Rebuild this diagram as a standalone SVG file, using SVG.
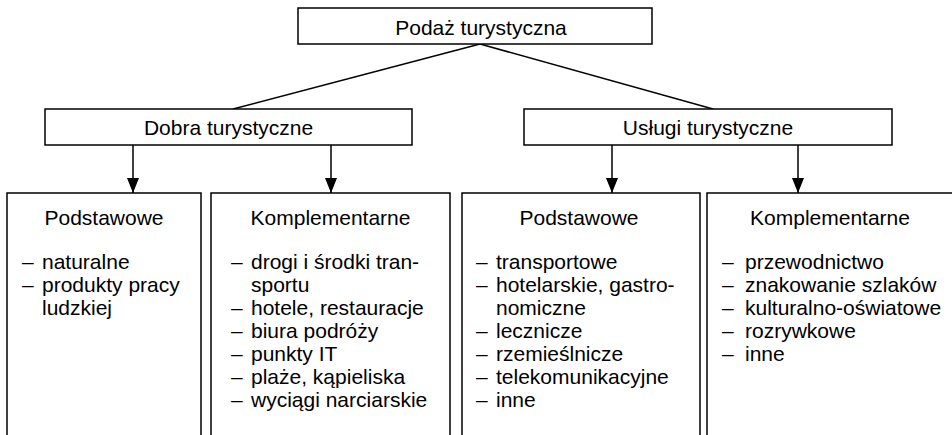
<svg xmlns="http://www.w3.org/2000/svg" width="952" height="435" viewBox="0 0 952 435">
<defs>
<marker id="arr" viewBox="0 0 15 12" refX="15" refY="6" markerWidth="15" markerHeight="12" markerUnits="userSpaceOnUse" orient="auto">
<path d="M0,0 L15,6 L0,12 Z" fill="#000"/>
</marker>
<style>
rect{fill:#fff;stroke:#000;stroke-width:1.5}
text{font-family:"Liberation Sans",Arial,sans-serif;font-size:21px;fill:#000}
.c{text-anchor:middle}
.ln{stroke:#000;stroke-width:1.5;fill:none}
</style>
</defs>
<rect x="0" y="0" width="952" height="435" style="stroke:none"/>
<g id="connectors">
<line class="ln" x1="480" y1="44" x2="233" y2="109"/>
<line class="ln" x1="480" y1="44" x2="713" y2="109"/>
<line class="ln" x1="133" y1="145" x2="133" y2="193" marker-end="url(#arr)"/>
<line class="ln" x1="331" y1="145" x2="331" y2="193" marker-end="url(#arr)"/>
<line class="ln" x1="612" y1="145" x2="612" y2="193" marker-end="url(#arr)"/>
<line class="ln" x1="798" y1="145" x2="798" y2="193" marker-end="url(#arr)"/>
</g>
<g id="podaz">
<rect x="298" y="8" width="354" height="36"/>
<text class="c" x="481" y="35">Podaż turystyczna</text>
</g>
<g id="dobra">
<rect x="45" y="109" width="367" height="36"/>
<text class="c" x="228.5" y="135">Dobra turystyczne</text>
</g>
<g id="uslugi">
<rect x="524" y="109" width="368" height="36"/>
<text class="c" x="708" y="135">Usługi turystyczne</text>
</g>
<g id="dobra-podstawowe">
<rect x="7" y="193" width="194" height="260"/>
<text class="c" x="104" y="225">Podstawowe</text>
<text x="22" y="269">–</text><text x="42" y="269">naturalne</text>
<text x="22" y="292">–</text><text x="42" y="292">produkty pracy</text>
<text x="42" y="315">ludzkiej</text>
</g>
<g id="dobra-komplementarne">
<rect x="211" y="193" width="239" height="260"/>
<text class="c" x="330.5" y="225">Komplementarne</text>
<text x="231" y="269">–</text><text x="251" y="269">drogi i środki tran-</text>
<text x="251" y="292">sportu</text>
<text x="231" y="315">–</text><text x="251" y="315">hotele, restauracje</text>
<text x="231" y="338">–</text><text x="251" y="338">biura podróży</text>
<text x="231" y="361">–</text><text x="251" y="361">punkty IT</text>
<text x="231" y="384">–</text><text x="251" y="384">plaże, kąpieliska</text>
<text x="231" y="407">–</text><text x="251" y="407">wyciągi narciarskie</text>
</g>
<g id="uslugi-podstawowe">
<rect x="462" y="193" width="238" height="260"/>
<text class="c" x="579" y="225">Podstawowe</text>
<text x="476" y="269">–</text><text x="496" y="269">transportowe</text>
<text x="476" y="292">–</text><text x="496" y="292">hotelarskie, gastro-</text>
<text x="496" y="315">nomiczne</text>
<text x="476" y="338">–</text><text x="496" y="338">lecznicze</text>
<text x="476" y="361">–</text><text x="496" y="361">rzemieślnicze</text>
<text x="476" y="384">–</text><text x="496" y="384">telekomunikacyjne</text>
<text x="476" y="407">–</text><text x="496" y="407">inne</text>
</g>
<g id="uslugi-komplementarne">
<rect x="707" y="193" width="250" height="260"/>
<text class="c" x="830" y="225">Komplementarne</text>
<text x="722" y="269">–</text><text x="745" y="269">przewodnictwo</text>
<text x="722" y="292">–</text><text x="745" y="292">znakowanie szlaków</text>
<text x="722" y="315">–</text><text x="745" y="315">kulturalno-oświatowe</text>
<text x="722" y="338">–</text><text x="745" y="338">rozrywkowe</text>
<text x="722" y="361">–</text><text x="745" y="361">inne</text>
</g>
</svg>
